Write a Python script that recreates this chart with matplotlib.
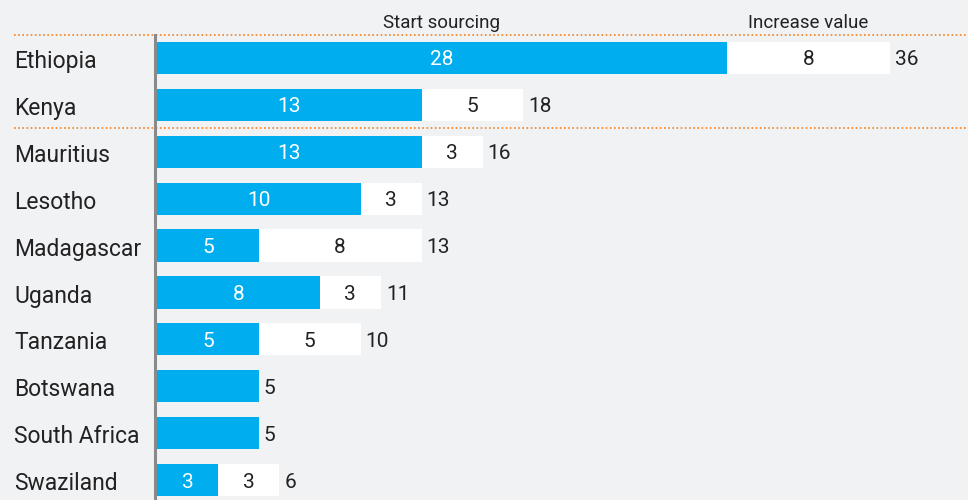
import numpy as np
import matplotlib.pyplot as plt

countries = ["Ethiopia", "Kenya", "Mauritius", "Lesotho", "Madagascar",
             "Uganda", "Tanzania", "Botswana", "South Africa", "Swaziland"]
start_sourcing = [28, 13, 13, 10, 5, 8, 5, 5, 5, 3]
increase_value = [8, 5, 3, 3, 8, 3, 5, 0, 0, 3]
totals = [36, 18, 16, 13, 13, 11, 10, 5, 5, 6]

bg = "#f1f2f4"
blue = "#00aeef"
orange = "#f58220"
font = "Roboto"
fw = "normal"
ink = "#222222"

fig = plt.figure(figsize=(9.68, 5.0), dpi=100, facecolor=bg)
ax = fig.add_axes([157 / 968, 0, 1 - 157 / 968, 1])
ax.set_facecolor(bg)

y = np.arange(len(countries))
ax.barh(y, start_sourcing, height=0.685, color=blue)
ax.barh(y, increase_value, left=start_sourcing, height=0.685, color="white")

for i in range(len(countries)):
    s, v, t = start_sourcing[i], increase_value[i], totals[i]
    if v > 0:
        ax.text(s / 2, i, str(s), ha="center", va="center_baseline", color="white",
                fontsize=15, family=font, fontweight=fw)
        ax.text(s + v / 2, i, str(v), ha="center", va="center_baseline", color=ink,
                fontsize=15, family=font, fontweight=fw)
    ax.text(s + v + 0.25, i, str(t), ha="left", va="center_baseline", color=ink,
            fontsize=15, family=font, fontweight=fw)
    fig.text(14 / 968, 1 - (59 + i * 46.9) / 500, countries[i], ha="left",
             va="center_baseline", color=ink, fontsize=16.5, family=font, fontweight=fw)

ax.set_xlim(0, (968 - 157) / 20.35)
ax.set_ylim(9 + 20 / 46.9, -58 / 46.9)
ax.axis("off")

# headers
hy = -58 / 46.9 + 21 / 46.9
ax.text(start_sourcing[0] / 2, hy, "Start sourcing", ha="center", va="center_baseline",
        color=ink, fontsize=13.5, family=font, fontweight=fw)
ax.text(start_sourcing[0] + increase_value[0] / 2, hy, "Increase value",
        ha="center", va="center_baseline", color=ink, fontsize=13.5, family=font, fontweight=fw)

# separators
for yy in [35, 127.5]:
    fig.add_artist(plt.Line2D([14 / 968, 1], [1 - yy / 500, 1 - yy / 500],
                              color=orange, lw=1.2, linestyle=(0, (1, 1.5))))
fig.add_artist(plt.Line2D([155 / 968, 155 / 968], [1 - 35 / 500, 0],
                          color="#8a8a8a", lw=2.2))

plt.savefig("out.png", dpi=100, facecolor=bg)
